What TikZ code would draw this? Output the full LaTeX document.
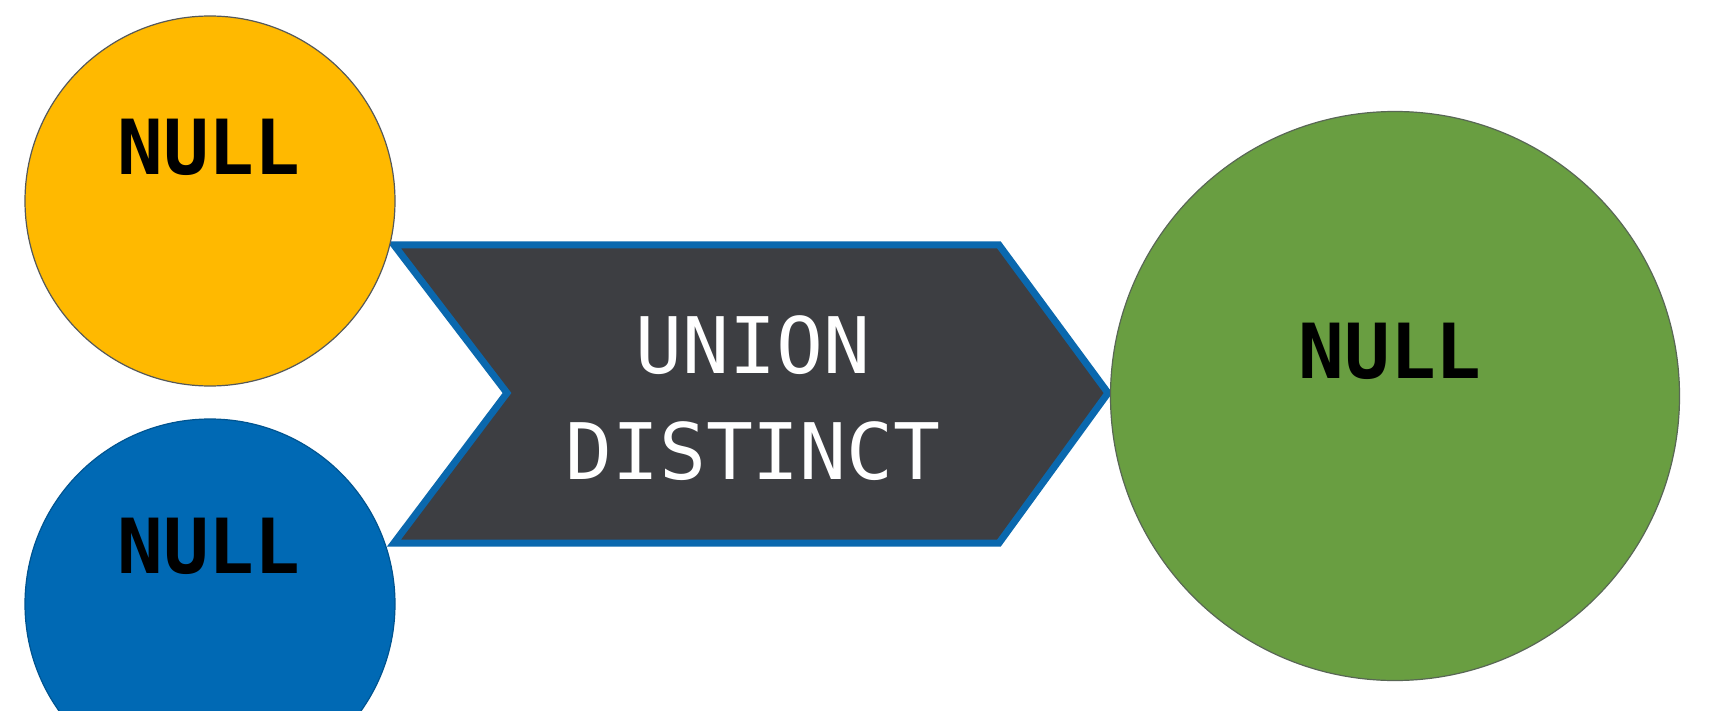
\documentclass[tikz,border=0pt]{standalone}
\usepackage{fontspec}
\newfontfamily\monofont{DejaVu Sans Mono}
\definecolor{setyellow}{HTML}{FFB900}
\definecolor{setblue}{HTML}{0069B4}
\definecolor{setgreen}{HTML}{699E41}
\definecolor{opfill}{HTML}{3D3E42}
\definecolor{opedge}{HTML}{0A68AE}
\definecolor{rim}{HTML}{55595A}
\begin{document}
\begin{tikzpicture}[x=1pt,y=-1pt,
  setcircle/.style={circle, draw=rim, line width=1.2pt, inner sep=0pt},
  nulltext/.style={font=\monofont\bfseries\fontsize{76}{80}\selectfont, text=black, inner sep=0pt},
  optext/.style={font=\monofont\fontsize{78}{106}\selectfont, text=white, align=center, inner sep=0pt}]
  \useasboundingbox (0,0) rectangle (1736,711);
  \clip (0,0) rectangle (1736,711);
  \fill[white] (0,0) rectangle (1736,711);

  % operator chevron
  \coordinate (tl) at (394,245);
  \coordinate (tr) at (999,245);
  \coordinate (tip) at (1108,393);
  \coordinate (br) at (999,543);
  \coordinate (bl) at (394,543);
  \coordinate (notch) at (507,393);
  \filldraw[fill=opfill, draw=opedge, line width=7pt, line join=miter]
    (tl) -- (tr) -- (tip) -- (br) -- (bl) -- (notch) -- cycle;
  \node[optext] (op) at (753,398) {UNION\\DISTINCT};

  % input and output sets
  \node[setcircle, fill=setyellow, minimum size=370pt] (a) at (210,201) {};
  \node[setcircle, fill=setblue, draw=setblue!80!black, minimum size=370pt] (b) at (210,604) {};
  \node[setcircle, fill=setgreen, draw=rim!80!setgreen, minimum size=569pt] (c) at (1395,396) {};

  \node[nulltext] (na) at (209,147) {NULL};
  \node[nulltext] (nb) at (209,546) {NULL};
  \node[nulltext] (nc) at (1390,351) {NULL};
\end{tikzpicture}
\end{document}
